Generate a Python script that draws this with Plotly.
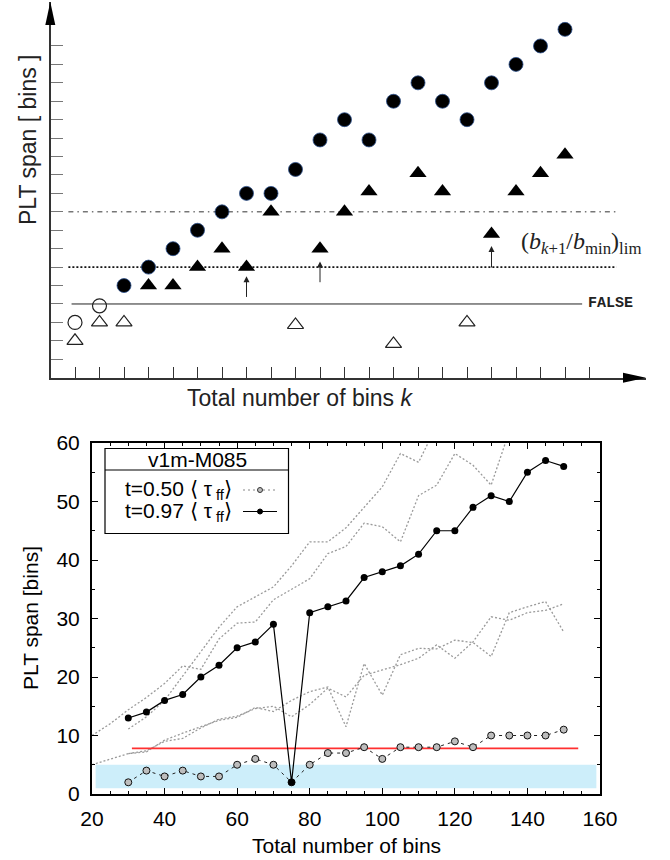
import plotly.graph_objects as go

W, H = 670, 860

def px(x):
    return x / W

def py(y):
    return 1 - y / H

# ---------------- top panel (schematic) data ----------------
k_fc = [3, 4, 5, 6, 7, 8, 9, 10, 11, 12, 13, 14, 15, 16, 17, 18, 19, 20, 21]
v_fc = [5, 6, 7, 8, 9, 10, 10, 11.3, 12.9, 14, 12.9, 15, 16, 15, 14, 16, 17, 18, 18.9]
k_ft = [4, 5, 6, 7, 8, 9, 11, 12, 13, 15, 16, 18, 19, 20, 21]
v_ft = [5, 5, 6, 7, 6, 9, 7, 9, 10.1, 11.1, 10.1, 7.8, 10.1, 11.1, 12.1]
k_oc = [1, 2]
v_oc = [3.0, 3.9]
k_ot = [1, 2, 3, 10, 14, 17]
v_ot = [2.0, 3.0, 3.0, 2.86, 1.83, 3.0]
dashdot_x = [0.73, 23.1]
dashdot_y = [9, 9]
dotted_x = [0.73, 23.1]
dotted_y = [6, 6]
false_x = [0.86, 21.7]
false_y = [4, 4]
arrow_k = [8, 11, 18]
arrow_tail = [4.3, 5.1, 5.9]
arrow_head = [5.5, 6.3, 7.15]
top_yticks = list(range(1, 19))
top_xticks = list(range(1, 23))

# ---------------- bottom panel data ----------------
bins = list(range(30, 155, 5))
t097 = [13, 14, 16, 17, 20, 22, 25, 26, 29, 2, 31, 32, 33, 37, 38, 39, 41, 45, 45, 49, 51, 50, 55, 57, 56]
t050 = [2, 4, 3, 4, 3, 3, 5, 6, 5, 2, 5, 7, 7, 8, 6, 8, 8, 8, 9, 8, 10, 10, 10, 10, 11]

gA_x = list(range(20, 155, 5))
gA_y = [10, 12, 14.4, 16.5, 18.9, 21.9, 21.3, 26.5, 29.2, 29.4, 33.2, 35, 36.8, 41.1, 42.3,
        46.3, 45.7, 43.1, 51, 52.8, 58.2, 56.2, 52.8, 62, 65, 68, 70]
gB_x = list(range(30, 125, 5))
gB_y = [11.1, 13.2, 16, 20.1, 24.3, 28.5, 32, 33.7, 35.4, 39, 43.1, 43.1, 45.5, 49, 52.5,
        58.2, 56.7, 63, 66]
gC_x = list(range(20, 155, 5))
gC_y = [5, 6, 6.9, 7.2, 9.2, 10.4, 11.5, 12.6, 13.1, 14.8, 14.1, 16, 17.5, 18.3, 11.5,
        22.3, 16.9, 23.8, 24.9, 24.8, 26.3, 25.9, 23.5, 31, 32, 32.9, 27.7]
gD_x = list(range(30, 155, 5))
gD_y = [6.9, 7.4, 9, 9.5, 11.3, 12.8, 13.3, 14.6, 15, 13.2, 15.3, 18.1, 16.6, 20.3, 21.2,
        22.1, 23.2, 25.5, 23.2, 26, 30.3, 29.7, 31, 31.4, 32.5]

red_x = [31, 154]
red_y = [7.8, 7.8]
band_x = [21, 159]
band_y = [1, 5]

SANS = "Liberation Sans, Arial, sans-serif"

fig = go.Figure()

# ---- top panel traces ----
fig.add_trace(go.Scatter(x=false_x, y=false_y, mode="lines", line=dict(color="#222", width=1),
                         xaxis="x", yaxis="y"))
fig.add_trace(go.Scatter(x=dotted_x, y=dotted_y, mode="lines",
                         line=dict(color="#111", width=1.6, dash="2px,2px"), xaxis="x", yaxis="y"))
fig.add_trace(go.Scatter(x=dashdot_x, y=dashdot_y, mode="lines",
                         line=dict(color="#333", width=1, dash="5px,4px,1.5px,4px"), xaxis="x", yaxis="y"))
fig.add_trace(go.Scatter(x=k_oc, y=v_oc, mode="markers",
                         marker=dict(symbol="circle-open", size=14, color="#222", line=dict(width=1.2)),
                         xaxis="x", yaxis="y"))
fig.add_trace(go.Scatter(x=k_ot, y=v_ot, mode="markers",
                         marker=dict(symbol="triangle-up-open", size=14, color="#222", line=dict(width=1.2)),
                         xaxis="x", yaxis="y"))
fig.add_trace(go.Scatter(x=k_fc, y=v_fc, mode="markers",
                         marker=dict(symbol="circle", size=14, color="black",
                                     line=dict(color="#2b4f8c", width=0.8)),
                         xaxis="x", yaxis="y"))
fig.add_trace(go.Scatter(x=k_ft, y=v_ft, mode="markers",
                         marker=dict(symbol="triangle-up", size=15, color="black", line=dict(width=0)),
                         xaxis="x", yaxis="y"))

# ---- bottom panel traces ----
for gx, gy in [(gA_x, gA_y), (gB_x, gB_y), (gC_x, gC_y), (gD_x, gD_y)]:
    fig.add_trace(go.Scatter(x=gx, y=gy, mode="lines",
                             line=dict(color="#9a9a9a", width=1.3, dash="2px,2px"),
                             xaxis="x2", yaxis="y2"))
fig.add_trace(go.Scatter(x=red_x, y=red_y, mode="lines", line=dict(color="#ff3030", width=1.8),
                         xaxis="x2", yaxis="y2"))
fig.add_trace(go.Scatter(x=bins, y=t050, mode="lines+markers",
                         line=dict(color="#222", width=1, dash="3px,4px"),
                         marker=dict(symbol="circle", size=7, color="#bdbdbd", line=dict(color="#111", width=1)),
                         xaxis="x2", yaxis="y2"))
fig.add_trace(go.Scatter(x=bins, y=t097, mode="lines+markers",
                         line=dict(color="black", width=1.2),
                         marker=dict(symbol="circle", size=7, color="black"),
                         xaxis="x2", yaxis="y2"))

shapes = []
annotations = []

# band
shapes.append(dict(type="rect", xref="x2", yref="y2", x0=band_x[0], x1=band_x[1], y0=band_y[0], y1=band_y[1],
                   fillcolor="#cdeefa", line=dict(width=0), layer="below"))

# top panel arrowheads on axes
shapes.append(dict(type="path", xref="paper", yref="paper",
                   path=f"M {px(50.3)},{py(2)} L {px(45.3)},{py(25)} L {px(55.3)},{py(25)} Z",
                   fillcolor="black", line=dict(width=0)))
shapes.append(dict(type="path", xref="paper", yref="paper",
                   path=f"M {px(646)},{py(377.7)} L {px(623)},{py(372.7)} L {px(623)},{py(382.7)} Z",
                   fillcolor="black", line=dict(width=0)))

# small arrows
for k, t, h in zip(arrow_k, arrow_tail, arrow_head):
    annotations.append(dict(x=k, y=h, ax=k, ay=t, xref="x", yref="y", axref="x", ayref="y",
                            showarrow=True, arrowhead=2, arrowsize=1.2, arrowwidth=1, arrowcolor="#222",
                            text=""))

annotations.append(dict(x=21.86, y=4, xref="x", yref="y", xanchor="left", yanchor="middle",
                        text="<b>FALSE</b>", showarrow=False,
                        font=dict(family="Liberation Mono, DejaVu Sans Mono, monospace", size=15, color="#222")))
annotations.append(dict(x=21.65, y=7.3, xref="x", yref="y", xanchor="center", yanchor="middle",
                        text="(<i>b</i><sub><i>k</i>+1</sub>/<i>b</i><sub>min</sub>)<sub>lim</sub>",
                        showarrow=False,
                        font=dict(family="Liberation Serif, DejaVu Serif, serif", size=24, color="#222")))

annotations.append(dict(x=px(28), y=py(140), xref="paper", yref="paper", text="PLT span [ bins ]",
                        xanchor="center", yanchor="middle",
                        textangle=-90, showarrow=False, font=dict(family=SANS, size=23, color="#222")))
annotations.append(dict(x=px(300), y=py(398), xref="paper", yref="paper", text="Total number of bins <i>k</i>",
                        xanchor="center", yanchor="middle",
                        showarrow=False, font=dict(family=SANS, size=23, color="#222")))

annotations.append(dict(x=px(30), y=py(618), xref="paper", yref="paper", text="PLT span [bins]",
                        xanchor="center", yanchor="middle",
                        textangle=-90, showarrow=False, font=dict(family=SANS, size=21, color="black")))
annotations.append(dict(x=px(346), y=py(845), xref="paper", yref="paper", text="Total number of bins",
                        xanchor="center", yanchor="middle",
                        showarrow=False, font=dict(family=SANS, size=21, color="black")))

# legend box
shapes.append(dict(type="rect", xref="paper", yref="paper", x0=px(105), x1=px(288.5), y0=py(533.5), y1=py(448.5),
                   fillcolor="white", line=dict(color="black", width=1.2)))
shapes.append(dict(type="line", xref="paper", yref="paper", x0=px(105), x1=px(288.5), y0=py(470), y1=py(470),
                   line=dict(color="black", width=1.2)))
annotations.append(dict(x=px(197), y=py(459.5), xref="paper", yref="paper", text="v1m-M085",
                        xanchor="center", yanchor="middle",
                        showarrow=False, font=dict(family=SANS, size=21, color="black")))
annotations.append(dict(x=px(123), y=py(490), xref="paper", yref="paper", xanchor="left", yanchor="middle",
                        text="t=0.50 \u27e8 \u03c4<sub> ff</sub>\u27e9",
                        showarrow=False, font=dict(family=SANS, size=21, color="black")))
annotations.append(dict(x=px(123), y=py(511.5), xref="paper", yref="paper", xanchor="left", yanchor="middle",
                        text="t=0.97 \u27e8 \u03c4<sub> ff</sub>\u27e9",
                        showarrow=False, font=dict(family=SANS, size=21, color="black")))
shapes.append(dict(type="line", xref="paper", yref="paper", x0=px(243), x1=px(277), y0=py(490), y1=py(490),
                   line=dict(color="#888", width=1.2, dash="2px,3px")))
shapes.append(dict(type="circle", xref="paper", yref="paper", x0=px(257.5), x1=px(262.5), y0=py(492.5), y1=py(487.5),
                   fillcolor="#bdbdbd", line=dict(color="#333", width=1)))
shapes.append(dict(type="line", xref="paper", yref="paper", x0=px(243), x1=px(277), y0=py(511.5), y1=py(511.5),
                   line=dict(color="black", width=1.2)))
shapes.append(dict(type="circle", xref="paper", yref="paper", x0=px(257.5), x1=px(262.5), y0=py(514), y1=py(509),
                   fillcolor="black", line=dict(color="black", width=1)))

x_top_max = (646 - 50.5) / 24.5
y_top_max = (377.7 - 2) / 18.43

fig.update_layout(
    width=W, height=H, template="none",
    margin=dict(l=0, r=0, t=0, b=0),
    paper_bgcolor="white", plot_bgcolor="rgba(0,0,0,0)",
    showlegend=False,
    xaxis=dict(domain=[px(50.5), px(646)], range=[0, x_top_max], showgrid=False, zeroline=False,
               showline=True, linecolor="#333", linewidth=2, ticks="inside", tickvals=top_xticks,
               ticklen=11, tickwidth=1.2, tickcolor="#333", showticklabels=False, anchor="y"),
    yaxis=dict(domain=[py(377.7), py(2)], range=[0, y_top_max], showgrid=False, zeroline=False,
               showline=True, linecolor="#333", linewidth=2, ticks="inside", tickvals=top_yticks,
               ticklen=12, tickwidth=1.2, tickcolor="#777", showticklabels=False, anchor="x"),
    xaxis2=dict(domain=[px(92), px(600)], range=[20, 160], showgrid=False, zeroline=False,
                showline=True, linecolor="black", linewidth=2, mirror="allticks",
                ticks="inside", tickvals=list(range(20, 161, 20)), ticklen=6, tickwidth=1, tickcolor="black",
                minor=dict(dtick=5, ticks="inside", ticklen=3, tickcolor="black", tickwidth=1),
                ticklabelstandoff=5,
                tickfont=dict(family=SANS, size=21, color="black"), anchor="y2"),
    yaxis2=dict(domain=[py(794), py(443)], range=[0, 60], showgrid=False, zeroline=False,
                showline=True, linecolor="black", linewidth=2, mirror="allticks",
                ticks="inside", tickvals=list(range(0, 61, 10)), ticklen=6, tickwidth=1, tickcolor="black",
                minor=dict(dtick=5, ticks="inside", ticklen=3, tickcolor="black", tickwidth=1),
                ticklabelstandoff=6,
                tickfont=dict(family=SANS, size=21, color="black"), anchor="x2"),
    shapes=shapes, annotations=annotations,
)

fig.write_html("out.html")
